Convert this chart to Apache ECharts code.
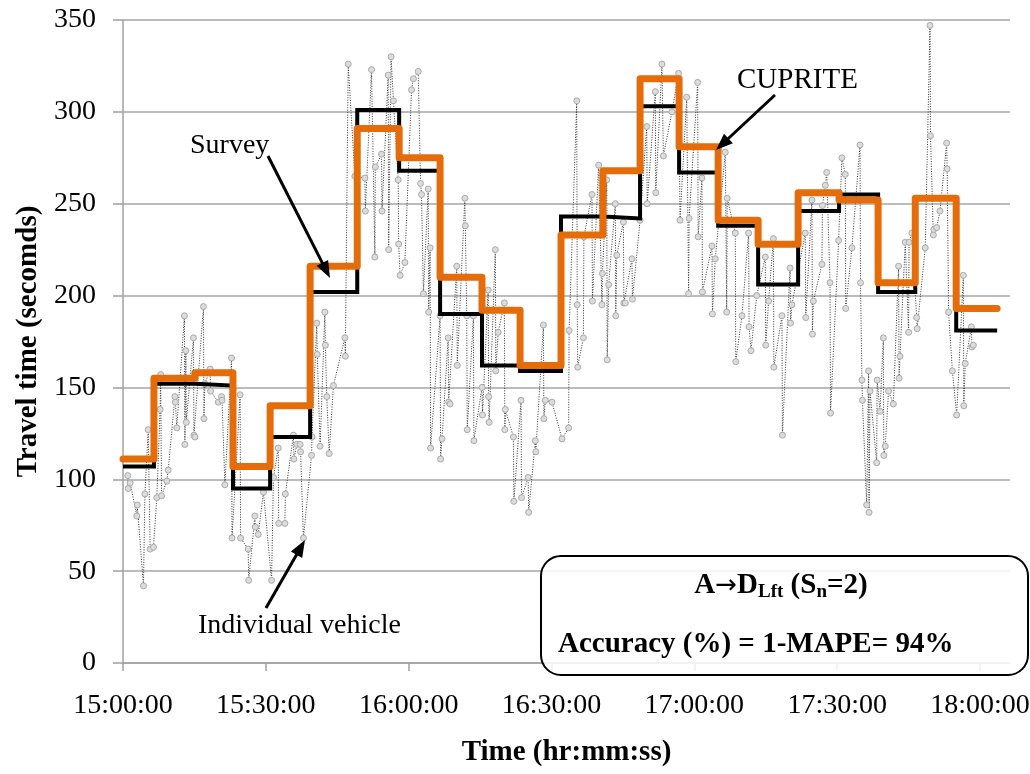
<!DOCTYPE html>
<html>
<head>
<meta charset="utf-8">
<script src="https://cdn.jsdelivr.net/npm/echarts@6/dist/echarts.min.js"></script>
<style>html,body{margin:0;padding:0;background:#fff}#c{width:1030px;height:774px}</style>
</head>
<body>
<div id="c"></div>
<script>
// Step intervals (minutes after 15:00:00)
const stepTimes = [0, 6.5, 15.1, 23.1, 30.9, 39.3, 49.2, 58.0, 66.6, 75.4, 83.4, 92.0, 100.8, 108.6, 116.8, 125.0, 133.4, 141.8, 150.4, 158.6, 166.4, 175.0, 183.6];
const surveyValues  = [107, 152, 151, 95, 123, 202, 301, 268, 190, 162, 159, 243, 242, 303, 267, 238, 206, 246, 255, 202, 253, 181];
const cupriteValues = [111, 155, 158, 107, 140, 216, 291, 275, 210, 192, 162, 233, 268, 318, 281, 241, 228, 256, 252, 207, 253, 193];

// Individual vehicle travel times (minutes after 15:00:00, seconds)
const vehicleMinutes = [
 1.0,1.1,1.5,2.9,3.0,4.3,4.6,5.3,5.7,6.4,7.1,7.8,7.9,8.1,9.2,9.5,10.9,11.0,11.3,12.9,13.0,13.2,13.3,14.8,14.9,15.1,16.9,17.0,17.2,18.3,18.4,20.0,20.7,20.8,21.4,22.8,22.9,24.6,24.7,26.3,26.4,27.7,27.8,28.4,29.5,
 31.2,31.6,32.6,32.7,34.0,34.1,35.8,35.9,36.5,37.2,37.3,37.9,39.6,39.7,40.7,40.8,41.4,42.4,42.5,42.8,43.3,44.2,46.6,46.7,47.3,48.7,50.8,50.9,52.2,52.9,53.0,54.3,54.4,55.7,55.8,56.3,56.8,57.8,57.9,58.2,59.2,60.6,61.0,62.0,
 62.5,62.7,63.1,64.1,64.2,64.5,64.6,66.6,66.7,67.0,68.3,68.4,68.7,70.1,70.2,71.8,71.9,72.2,72.3,73.6,73.7,75.4,75.5,76.7,76.8,76.9,78.2,78.3,78.8,80.1,80.2,80.3,82.0,82.1,83.6,83.7,85.1,85.2,86.6,86.7,88.3,88.4,88.7,90.1,92.2,93.6,93.7,
 95.3,95.4,95.5,96.7,96.8,98.5,98.6,99.9,100.6,100.7,101.6,101.7,102.0,103.4,103.5,103.7,105.1,105.2,105.5,106.9,107.0,108.6,110.0,110.1,111.8,111.9,113.2,113.5,115.3,116.7,117.0,118.4,118.8,118.9,120.7,120.8,121.6,121.7,123.7,123.8,124.4,
 126.5,126.8,126.9,128.6,128.7,130.0,131.4,131.5,131.9,133.1,134.9,135.0,135.6,136.6,136.7,138.4,138.5,140.1,140.2,140.5,143.3,143.4,144.7,144.8,145.0,146.8,146.9,147.5,147.8,148.5,148.6,150.3,151.0,151.7,151.8,153.1,154.8,154.9,155.2,155.3,156.2,156.6,
 156.7,156.9,158.3,158.4,159.0,159.7,159.8,160.1,160.8,161.8,162.9,163.0,163.2,164.3,165.0,165.1,165.7,166.7,166.8,168.5,169.5,169.6,170.2,170.3,170.9,171.6,173.0,173.1,173.4,174.2,175.1,176.5,176.6,176.9,178.2,178.3,178.6
];
const vehicleValues = [
 102,95,98,80,86,42,92,127,62,63,90,138,157,91,99,105,145,142,128,189,119,170,131,177,124,123,194,133,152,160,148,142,145,143,97,166,68,146,68,62,45,80,74,70,93,
 45,101,117,76,76,92,124,111,119,119,115,68,113,123,185,168,118,191,173,145,114,151,177,167,326,265,264,246,323,221,270,277,246,320,225,330,306,263,228,211,218,312,318,322,
 261,255,201,258,191,226,117,189,111,122,177,142,141,216,162,253,238,189,127,189,121,150,135,203,145,131,225,159,180,196,127,138,123,88,143,90,101,82,121,115,184,133,143,142,122,128,181,
 306,195,161,177,232,255,197,271,195,212,263,165,206,250,189,222,240,196,196,220,198,241,292,250,311,256,326,276,300,321,241,308,201,242,316,232,264,202,227,190,220,
 278,191,253,234,164,189,234,183,170,200,221,173,197,231,161,189,124,215,185,195,234,188,252,179,197,217,249,260,267,207,136,230,275,266,193,226,282,207,154,143,86,159,
 82,148,109,154,137,177,113,118,148,141,216,155,167,229,180,229,234,188,182,226,347,287,233,236,237,246,283,269,191,159,135,211,140,163,183,172,173
];

const xTicks = [0, 30, 60, 90, 120, 150, 180];
const yMin = 0, yMax = 350, yStep = 50;

function fmtTime(m) {
  const total = Math.round(m * 60) + 15 * 3600;
  const h = Math.floor(total / 3600), mm = Math.floor((total % 3600) / 60), ss = total % 60;
  const p = n => String(n).padStart(2, '0');
  return h + ':' + p(mm) + ':' + p(ss);
}
function stepData(vals) {
  const d = vals.map((v, i) => [stepTimes[i], v]);
  d.push([stepTimes[stepTimes.length - 1], vals[vals.length - 1]]);
  return d;
}
const vehicleData = vehicleMinutes.map((t, i) => [t, vehicleValues[i]]);

function arrow(x1, y1, x2, y2) {
  const head = 17, w = 13;
  const dx = x2 - x1, dy = y2 - y1, L = Math.hypot(dx, dy), ux = dx / L, uy = dy / L;
  const bx = x2 - ux * head, by = y2 - uy * head, px = -uy, py = ux;
  return [
    { type: 'line', z: 100, shape: { x1: x1, y1: y1, x2: bx + ux * 2, y2: by + uy * 2 }, style: { stroke: '#000', lineWidth: 3 } },
    { type: 'polygon', z: 100, shape: { points: [[x2, y2], [bx + px * w / 2, by + py * w / 2], [bx - px * w / 2, by - py * w / 2]] }, style: { fill: '#000' } }
  ];
}

const FONT = '"Liberation Serif", "Times New Roman", serif';
const chart = echarts.init(document.getElementById('c'), null, { renderer: 'canvas' });
const axisGray = '#a0a0a0';

chart.setOption({
  animation: false,
  backgroundColor: '#fff',
  grid: { left: 123, top: 20, right: 20, bottom: 111, containLabel: false, outerBoundsMode: 'none' },
  xAxis: {
    type: 'value', min: 0, max: 186.3,
    name: 'Time (hr:mm:ss)', nameLocation: 'middle', nameGap: 75,
    nameTextStyle: { fontFamily: FONT, fontSize: 29, fontWeight: 'bold', color: '#000' },
    axisLine: { show: true, lineStyle: { color: axisGray, width: 1.5 } },
    axisTick: { show: true, length: 8, customValues: xTicks, lineStyle: { color: axisGray, width: 1.5 } },
    axisLabel: { customValues: xTicks, formatter: v => fmtTime(v), fontFamily: FONT, fontSize: 28, color: '#000', margin: 29 },
    splitLine: { show: false }
  },
  yAxis: {
    type: 'value', min: yMin, max: yMax, interval: yStep,
    name: 'Travel time (secomds)', nameLocation: 'middle', nameGap: 80, nameRotate: 90,
    nameTextStyle: { fontFamily: FONT, fontSize: 29, fontWeight: 'bold', color: '#000' },
    axisLine: { show: true, lineStyle: { color: axisGray, width: 1.5 } },
    axisTick: { show: true, length: 10, lineStyle: { color: axisGray, width: 1.5 } },
    axisLabel: { fontFamily: FONT, fontSize: 28, color: '#000', margin: 27 },
    splitLine: { show: true, lineStyle: { color: '#a6a6a6', width: 1.5 } }
  },
  series: [
    {
      name: 'Individual vehicle', type: 'line', data: vehicleData, z: 2,
      symbol: 'circle', symbolSize: 6, showSymbol: true,
      lineStyle: { color: '#333', width: 1, type: [1, 1.5] },
      itemStyle: { color: '#dcdcdc', borderColor: '#aaaaaa', borderWidth: 1 }
    },
    {
      name: 'Survey', type: 'line', step: 'end', data: stepData(surveyValues), z: 3,
      symbol: 'none', lineStyle: { color: '#000', width: 4, join: 'miter' }
    },
    {
      name: 'CUPRITE', type: 'line', step: 'end', data: stepData(cupriteValues), z: 4,
      symbol: 'none', lineStyle: { color: '#E46C0A', width: 7, cap: 'round', join: 'round' }
    }
  ],
  graphic: [
    { type: 'text', z: 100, x: 190, y: 146, style: { text: 'Survey', font: '28px ' + FONT, fill: '#000', verticalAlign: 'middle' } },
    ...arrow(268, 156, 330, 278),
    { type: 'text', z: 100, x: 737, y: 80, style: { text: 'CUPRITE', font: '29px ' + FONT, fill: '#000', verticalAlign: 'middle' } },
    ...arrow(775, 95, 716, 150),
    { type: 'text', z: 100, x: 198, y: 626, style: { text: 'Individual vehicle', font: '28px ' + FONT, fill: '#000', verticalAlign: 'middle' } },
    ...arrow(266, 608, 305, 540),
    { type: 'rect', z: 90, shape: { x: 541, y: 556, width: 487, height: 119, r: 20 }, style: { fill: 'rgba(255,255,255,0.85)', stroke: '#000', lineWidth: 2 } },
    {
      type: 'text', z: 100, x: 781, y: 586,
      style: {
        text: '{b|A}{a|→}{b|D}{s|Lft}{b| (S}{s|n}{b|=2)}',
        align: 'center', verticalAlign: 'middle',
        rich: {
          b: { font: 'bold 29px ' + FONT, fill: '#000', lineHeight: 32 },
          a: { font: '26px "DejaVu Sans", sans-serif', fill: '#000', lineHeight: 32 },
          s: { font: 'bold 19px ' + FONT, fill: '#000', lineHeight: 24, verticalAlign: 'bottom' }
        }
      }
    },
    { type: 'text', z: 100, x: 558, y: 645, style: { text: 'Accuracy (%) = 1-MAPE= 94%', font: 'bold 29px ' + FONT, fill: '#000', verticalAlign: 'middle' } }
  ]
});
</script>
</body>
</html>
